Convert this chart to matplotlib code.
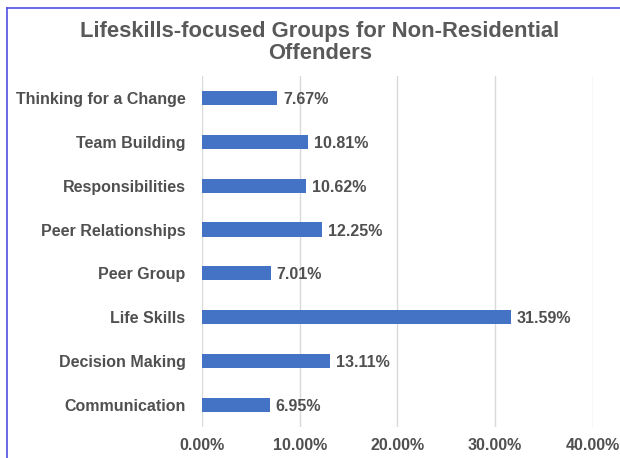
import matplotlib.pyplot as plt
from matplotlib.lines import Line2D

categories = ['Thinking for a Change', 'Team Building', 'Responsibilities', 'Peer Relationships',
              'Peer Group', 'Life Skills', 'Decision Making', 'Communication']
values = [7.67, 10.81, 10.62, 12.25, 7.01, 31.59, 13.11, 6.95]
xticks = [0, 10, 20, 30, 40]

plt.rcParams['font.family'] = ['Liberation Sans', 'DejaVu Sans']
txt = '#505050'

fig = plt.figure(figsize=(6.2, 4.58), dpi=100)
ax = fig.add_axes([0.326, 0.068, 0.63, 0.766])

ypos = list(range(len(categories)))[::-1]
ax.barh(ypos, values, height=0.32, color='#4472C4', zorder=3)
for y, v in zip(ypos, values):
    ax.text(v + 0.6, y, '%.2f%%' % v, va='center_baseline', ha='left', fontsize=11.5,
            fontweight='bold', color=txt)

ax.set_ylim(-0.5, 7.5)
ax.set_xlim(0, 40)
ax.set_yticks(ypos)
ax.set_yticklabels(categories, fontsize=11.5, fontweight='bold', color=txt)
ax.set_xticks(xticks)
ax.set_xticklabels(['%.2f%%' % t for t in xticks], fontsize=11.5, fontweight='bold', color=txt)
ax.tick_params(length=0)
ax.tick_params(axis='y', pad=12)
ax.tick_params(axis='x', pad=8)
ax.grid(axis='x', color='#d9d9d9', linewidth=1, zorder=0)
for s in ax.spines.values():
    s.set_visible(False)

fig.text(0.516, 0.907, 'Lifeskills-focused Groups for Non-Residential\nOffenders', ha='center', va='center',
         fontsize=15.8, fontweight='bold', color='#595959', linespacing=1.1)

# outer frame bits visible at top and left
fig.add_artist(Line2D([0.011, 1], [0.982, 0.982], color='#5050e0', linewidth=1.2))
fig.add_artist(Line2D([0.011, 0.011], [0, 0.982], color='#5050e0', linewidth=1.2))

plt.savefig('out.png', format='png')
